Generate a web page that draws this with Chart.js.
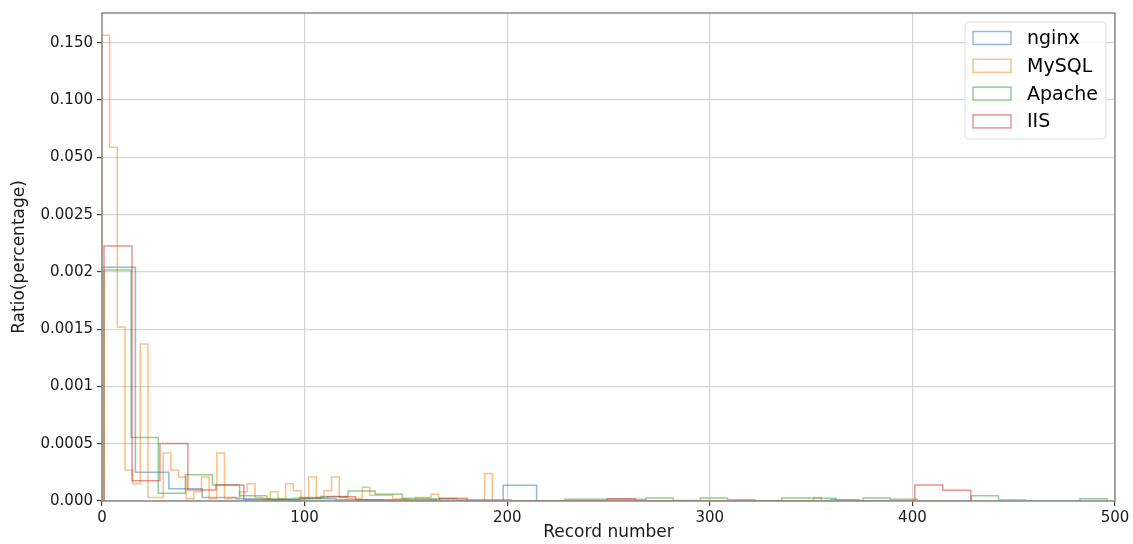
<!DOCTYPE html>
<html>
<head>
<meta charset="utf-8">
<title>Record number distribution</title>
<script src="https://cdn.jsdelivr.net/npm/chart.js@4.4.1/dist/chart.umd.min.js"></script>
<style>
  html, body { margin: 0; padding: 0; background: #ffffff; }
  canvas { display: block; }
</style>
</head>
<body>
<canvas id="chart" width="1133" height="544"></canvas>
<script>
// Piecewise y axis: tick labels and the ratio value each tick stands for
const yTickLabels = ['0.000', '0.0005', '0.001', '0.0015', '0.002', '0.0025', '0.050', '0.100', '0.150'];
const yTickValues = [0, 0.0005, 0.001, 0.0015, 0.002, 0.0025, 0.05, 0.1, 0.15];

const seriesNames = ['nginx', 'MySQL', 'Apache', 'IIS'];

// Histogram bins: first edge, bin width, and the ratio in each bin
const nginxStart = 0;
const nginxWidth = 16.5;
const nginxHeights = [0.00204, 0.00025, 0.000107, 0.00003, 0.00002, 0.00001, 0.00002,
  0.00001, 0.00001, 0.00001, 0, 0, 0.000137];

const mysqlStart = 0;
const mysqlWidth = 3.777;
const mysqlHeights = [
  0.1565, 0.0587, 0.00152, 0.00027, 0.00015, 0.00137, 0.00003, 0.00003, 0.00042, 0.00027,
  0.00021, 0.00002, 0.00008, 0.00021, 0.00002, 0.00042, 0.00002, 0.00003, 0.00008, 0.00015,
  0.00003, 0.00002, 0.00008, 0.00002, 0.00015, 0.00009, 0.00002, 0.00021, 0.00003, 0.00009,
  0.00021, 0.00003, 0.00002, 0.00002, 0.00012, 0.00005, 0.00005, 0.00005, 0.00002, 0.00002,
  0, 0.00003, 0.00003, 0.00006, 0.00002, 0.00002, 0, 0, 0, 0,
  0.00024, 0, 0, 0, 0, 0, 0, 0, 0, 0,
  0, 0, 0, 0, 0, 0, 0, 0, 0, 0,
  0, 0, 0, 0, 0, 0, 0, 0, 0, 0,
  0, 0, 0, 0, 0, 0, 0, 0, 0, 0,
  0, 0, 0, 0.00003];

const apacheStart = 1;
const apacheWidth = 13.38;
const apacheHeights = [
  0.002016, 0.000555, 0.000067, 0.00023, 0.00014, 0.000046, 0.00002, 0.000024, 0.00004, 0.000087,
  0.000058, 0.000024, 0.00002, 0.00001, 0.00001, 0, 0, 0.000015, 0.000015, 0.000015,
  0.000026, 0.000005, 0.000026, 0.00001, 0.000003, 0.000026, 0.000024, 0.000003, 0.000026, 0.000015,
  0.000003, 0.000003, 0.000046, 0.000009, 0, 0, 0.00002];

const iisStart = 1;
const iisWidth = 13.8;
const iisHeights = [
  0.002225, 0.000177, 0.000503, 0.000096, 0.00014, 0.00001, 0.00001, 0.00003, 0.000037, 0.00001,
  0.000005, 0.000005, 0.000023, 0, 0, 0, 0, 0, 0.00002, 0,
  0, 0, 0, 0, 0, 0, 0.00001, 0, 0, 0.00014, 0.000093];

// Map a ratio onto the evenly spaced tick positions of the broken axis
function toAxis(v) {
  const n = yTickValues.length;
  for (let i = 0; i < n - 1; i++) {
    if (v <= yTickValues[i + 1]) {
      return i + (v - yTickValues[i]) / (yTickValues[i + 1] - yTickValues[i]);
    }
  }
  return (n - 1) + (v - yTickValues[n - 1]) / (yTickValues[n - 1] - yTickValues[n - 2]);
}

// Outline of a step histogram: up at the first edge, across each bin, down at the last edge
function stepOutline(start, width, heights) {
  const pts = [{ x: start, y: 0 }];
  heights.forEach((h, k) => pts.push({ x: start + k * width, y: toAxis(h) }));
  pts.push({ x: start + heights.length * width, y: 0 });
  return pts;
}

const colors = ['rgba(31,119,180,0.5)', 'rgba(255,127,14,0.5)', 'rgba(44,160,44,0.5)', 'rgba(214,39,40,0.5)'];
const outlines = [
  stepOutline(nginxStart, nginxWidth, nginxHeights),
  stepOutline(mysqlStart, mysqlWidth, mysqlHeights),
  stepOutline(apacheStart, apacheWidth, apacheHeights),
  stepOutline(iisStart, iisWidth, iisHeights)
];

Chart.defaults.font.family = "'DejaVu Sans', 'Liberation Sans', sans-serif";
Chart.defaults.color = '#1a1a1a';

// Frame on all four sides, drawn over the histogram lines
const framePlugin = {
  id: 'frame',
  afterDatasetsDraw(chart) {
    const { ctx, chartArea: a } = chart;
    ctx.save();
    ctx.strokeStyle = '#8c8c8c';
    ctx.lineWidth = 1.5;
    ctx.strokeRect(a.left, a.top, a.right - a.left, a.bottom - a.top);
    ctx.restore();
  }
};

// Boxed legend in the upper right corner of the plot
const boxLegendPlugin = {
  id: 'boxLegend',
  afterDraw(chart) {
    const { ctx, chartArea: a } = chart;
    const w = 141, h = 117;
    const x0 = a.right - 9 - w, y0 = a.top + 9;
    ctx.save();
    ctx.beginPath();
    ctx.roundRect(x0, y0, w, h, 4);
    ctx.fillStyle = 'rgba(255,255,255,0.85)';
    ctx.fill();
    ctx.strokeStyle = '#dcdcdc';
    ctx.lineWidth = 1;
    ctx.stroke();
    ctx.font = "19px 'DejaVu Sans', sans-serif";
    ctx.textBaseline = 'middle';
    ctx.textAlign = 'left';
    chart.data.datasets.forEach((ds, i) => {
      const cy = y0 + 16 + i * 27.8;
      ctx.strokeStyle = ds.borderColor;
      ctx.lineWidth = 1.5;
      ctx.strokeRect(x0 + 8, cy - 6.5, 38, 13);
      ctx.fillStyle = '#000000';
      ctx.fillText(ds.label, x0 + 62, cy + 1);
    });
    ctx.restore();
  }
};

new Chart(document.getElementById('chart'), {
  type: 'line',
  data: {
    datasets: seriesNames.map((name, i) => ({
      label: name,
      data: outlines[i],
      borderColor: colors[i],
      borderWidth: 1.5,
      fill: false,
      stepped: 'before',
      pointRadius: 0,
      pointHoverRadius: 0,
      tension: 0,
      order: seriesNames.length - i
    }))
  },
  options: {
    responsive: false,
    animation: false,
    parsing: true,
    layout: { padding: { left: 0, top: 12, right: 18, bottom: 0 } },
    plugins: {
      legend: { display: false },
      tooltip: { enabled: false }
    },
    scales: {
      x: {
        type: 'linear',
        min: 0,
        max: 500,
        afterFit(scale) { scale.height = 43; },
        ticks: { stepSize: 100, padding: 3, font: { size: 15 }, color: '#1a1a1a', maxRotation: 0 },
        grid: { color: '#d6d6d6', lineWidth: 1.2, tickLength: 5, tickColor: '#444444', tickWidth: 1.2 },
        border: { display: false },
        title: { display: true, text: 'Record number', font: { size: 17 }, color: '#1a1a1a', padding: { top: 0, bottom: 1 } }
      },
      y: {
        type: 'linear',
        min: 0,
        max: 8.52,
        afterFit(scale) { scale.width = 102; },
        ticks: {
          stepSize: 1,
          includeBounds: false,
          padding: 4,
          font: { size: 15 },
          color: '#1a1a1a',
          callback: (v) => Number.isInteger(v) && yTickLabels[v] !== undefined ? yTickLabels[v] : ''
        },
        grid: { color: '#d6d6d6', lineWidth: 1.2, tickLength: 5, tickColor: '#444444', tickWidth: 1.2 },
        border: { display: false },
        title: { display: true, text: 'Ratio(percentage)', font: { size: 17 }, color: '#1a1a1a', padding: { top: 9, bottom: 0 } }
      }
    }
  },
  plugins: [framePlugin, boxLegendPlugin]
});
</script>
</body>
</html>
